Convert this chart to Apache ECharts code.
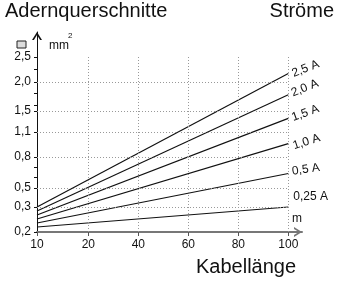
<!DOCTYPE html>
<html><head><meta charset="utf-8">
<script src="https://cdn.jsdelivr.net/npm/echarts@6/dist/echarts.min.js"></script>
<style>html,body{margin:0;padding:0;background:#fff}#c{width:337px;height:282px}</style>
</head><body><div id="c"></div>
<script>
// ---- data ----
var currents = ['2,5 A', '2,0 A', '1,5 A', '1,0 A', '0,5 A', '0,25 A'];
var lengths = [10, 100];                 // Kabellänge (m) at line ends
var areaAt10 = [0.30, 0.284, 0.268, 0.252, 0.236, 0.22];   // mm² at 10 m
var areaAt100 = [2.17, 1.78, 1.36, 0.96, 0.64, 0.30];     // mm² at 100 m
var xTicks = [10, 20, 40, 60, 80, 100];
var yTicks = [0.2, 0.3, 0.5, 0.8, 1.1, 1.5, 2.0, 2.5];
var yMinorTicks = [2.25, 1.8, 1.6, 0.7, 0.6];
var xGrid = [20, 40, 60, 80, 100];
var yGrid = [0.3, 0.5, 0.8, 1.1, 1.5, 2.0];

// ---- layout (schematic, non-linear axes) ----
var xTickPos = [0, 51.3, 101.3, 151.3, 201.3, 251.3];
var yTickPos = [0, 25, 44, 75, 100, 121, 150, 175];
var labelRot = [22, 22, 20, 18, 8, 0];
var labelOff = [[1, 1], [1, -1], [1, 0], [1, 3], [1, -2], [2, -10]];

function interp(v, vals, pos) {
  for (var i = 0; i < vals.length - 1; i++) {
    if (v <= vals[i + 1] || i === vals.length - 2) {
      var t = (v - vals[i]) / (vals[i + 1] - vals[i]);
      return pos[i] + t * (pos[i + 1] - pos[i]);
    }
  }
}
function xPos(v) { return interp(v, xTicks, xTickPos); }
function yPos(v) { return interp(v, yTicks, yTickPos); }
function fmt(v) { return String(v.toFixed(1)).replace('.', ','); }

var chevron = 'path://M0,8 L5,0 L10,8 L8.1,8 L5,3.1 L1.9,8 Z';
var font = 'Liberation Sans, Arial, sans-serif';

var series = currents.map(function (name, i) {
  return {
    name: name, type: 'line', showSymbol: false, silent: true,
    lineStyle: { color: '#111', width: 1.2 },
    data: [[xPos(lengths[0]), yPos(areaAt10[i])], [xPos(lengths[1]), yPos(areaAt100[i])]],
    endLabel: { show: true, formatter: name, distance: 3, rotate: labelRot[i], offset: labelOff[i],
      fontSize: 12, color: '#111', fontFamily: font },
    z: 3
  };
});
var gl = [];
yGrid.forEach(function (v) { gl.push([{ coord: [xPos(10), yPos(v)] }, { coord: [xPos(100), yPos(v)] }]); });
xGrid.forEach(function (v) { gl.push([{ coord: [xPos(v), yPos(0.2)] }, { coord: [xPos(v), yPos(2.5)] }]); });
series.push({
  type: 'line', data: [], silent: true,
  markLine: { silent: true, symbol: 'none', label: { show: false },
    lineStyle: { color: '#999', type: [1, 2], width: 1 }, data: gl, animation: false },
  z: 1
});

var chart = echarts.init(document.getElementById('c'));
chart.setOption({
  animation: false,
  grid: { left: 37, right: 35, top: 32, bottom: 50 },
  xAxis: {
    type: 'value', min: 0, max: 265,
    axisLine: { lineStyle: { color: '#777', width: 2 }, symbol: ['none', chevron], symbolSize: [10, 8], symbolOffset: [0, -4] },
    axisTick: { show: true, customValues: xTicks.map(xPos), length: 4, lineStyle: { color: '#555' } },
    axisLabel: { customValues: xTicks.map(xPos), margin: 7, fontSize: 12, color: '#111', fontFamily: font,
      formatter: function (v) { for (var i = 0; i < xTickPos.length; i++) if (Math.abs(xTickPos[i] - v) < 0.01) return String(xTicks[i]); return ''; } },
    splitLine: { show: false }
  },
  yAxis: {
    type: 'value', min: 0, max: 200,
    axisLine: { lineStyle: { color: '#111', width: 1 }, symbol: ['none', chevron], symbolSize: [10, 8], symbolOffset: [0, -4] },
    axisTick: { show: true, customValues: yTicks.concat(yMinorTicks).map(yPos), length: 3, lineStyle: { color: '#111' } },
    axisLabel: { customValues: yTicks.map(yPos), margin: 6, fontSize: 12, color: '#111', fontFamily: font,
      formatter: function (v) { for (var i = 0; i < yTickPos.length; i++) if (Math.abs(yTickPos[i] - v) < 0.01) return fmt(yTicks[i]); return ''; } },
    splitLine: { show: false }
  },
  graphic: [
    { type: 'text', left: 5, top: 1, style: { text: 'Adernquerschnitte', font: '20px ' + font, fill: '#111' } },
    { type: 'text', right: 3, top: 1, style: { text: 'Ströme', font: '20px ' + font, fill: '#111' } },
    { type: 'text', left: 196, top: 257, style: { text: 'Kabellänge', font: '20px ' + font, fill: '#111' } },
    { type: 'rect', shape: { x: 17, y: 41, width: 9, height: 7 }, style: { fill: '#ddd', stroke: '#222', lineWidth: 1 } },
    { type: 'text', left: 49, top: 40, style: { text: 'mm', font: '12px ' + font, fill: '#111' } },
    { type: 'text', left: 68, top: 32, style: { text: '2', font: '8px ' + font, fill: '#111' } },
    { type: 'text', left: 292, top: 213, style: { text: 'm', font: '12px ' + font, fill: '#111' } }
  ],
  series: series
});
</script></body></html>
